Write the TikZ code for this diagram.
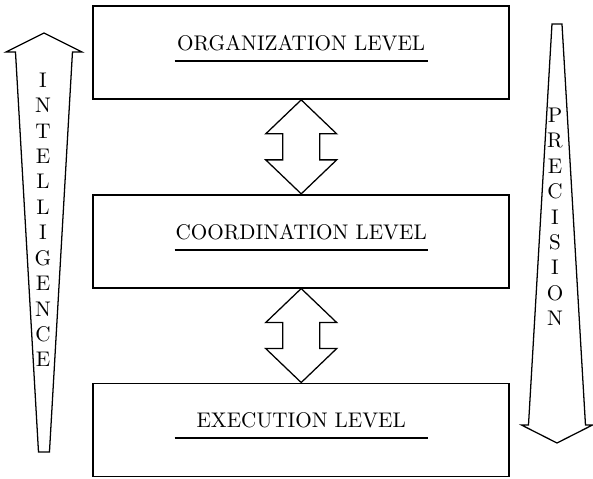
\documentclass[tikz,border=0pt]{standalone}
\usetikzlibrary{positioning}
\begin{document}
\begin{tikzpicture}[
        layer/.style={draw, thick, minimum width=6.906cm, minimum height=1.544cm},
        heading/.style={align=center, inner sep=0pt},
        dblarrow/.style={draw, semithick, line join=miter},
        bigarrow/.style={draw, semithick, line join=miter},
        letters/.style={align=center, inner sep=0pt},
        node distance=1.56cm,
    ]
    \useasboundingbox (0,0) rectangle (9.844,-7.951);

    % the three levels
    \node[layer](org) at (5.0,-0.872){};
    \node[layer, below=of org](coo){};
    \node[layer, below=of coo](exe){};

    \node[heading](orgt) at ([yshift=0.066cm]org.center){ORGANIZATION LEVEL\\[-6.6pt]\rule{4.2cm}{0.8pt}};
    \node[heading](coot) at ([yshift=0.066cm]coo.center){COORDINATION LEVEL\\[-6.6pt]\rule{4.2cm}{0.8pt}};
    \node[heading](exet) at ([yshift=0.066cm]exe.center){EXECUTION LEVEL\\[-6.6pt]\rule{4.2cm}{0.8pt}};

    % double arrows between the levels
    \foreach \a/\b in {org/coo, coo/exe}
        \draw[dblarrow] (\a.south) -- ++(0.589,-0.564) -- ++(-0.282,0) -- ++(0,-0.432)
            -- ++(0.282,0) -- (\b.north) -- ++(-0.589,0.564) -- ++(0.282,0)
            -- ++(0,0.432) -- ++(-0.282,0) -- cycle;

    % intelligence (up) and precision (down)
    \draw[bigarrow] (0.730,-0.548) -- (1.361,-0.863) -- (1.203,-0.863) -- (0.821,-7.503)
        -- (0.639,-7.503) -- (0.257,-0.863) -- (0.099,-0.863) -- cycle;
    \draw[bigarrow] (9.163,-0.398) -- (9.329,-0.398) -- (9.719,-7.055) -- (9.836,-7.055)
        -- (9.246,-7.354) -- (8.656,-7.055) -- (8.773,-7.055) -- cycle;

    \node[letters](intel) at (0.714,-3.65){I\\N\\T\\E\\L\\L\\I\\G\\E\\N\\C\\E};
    \node[letters](prec) at (9.213,-3.60){P\\R\\E\\C\\I\\S\\I\\O\\N};

\end{tikzpicture}
\end{document}
